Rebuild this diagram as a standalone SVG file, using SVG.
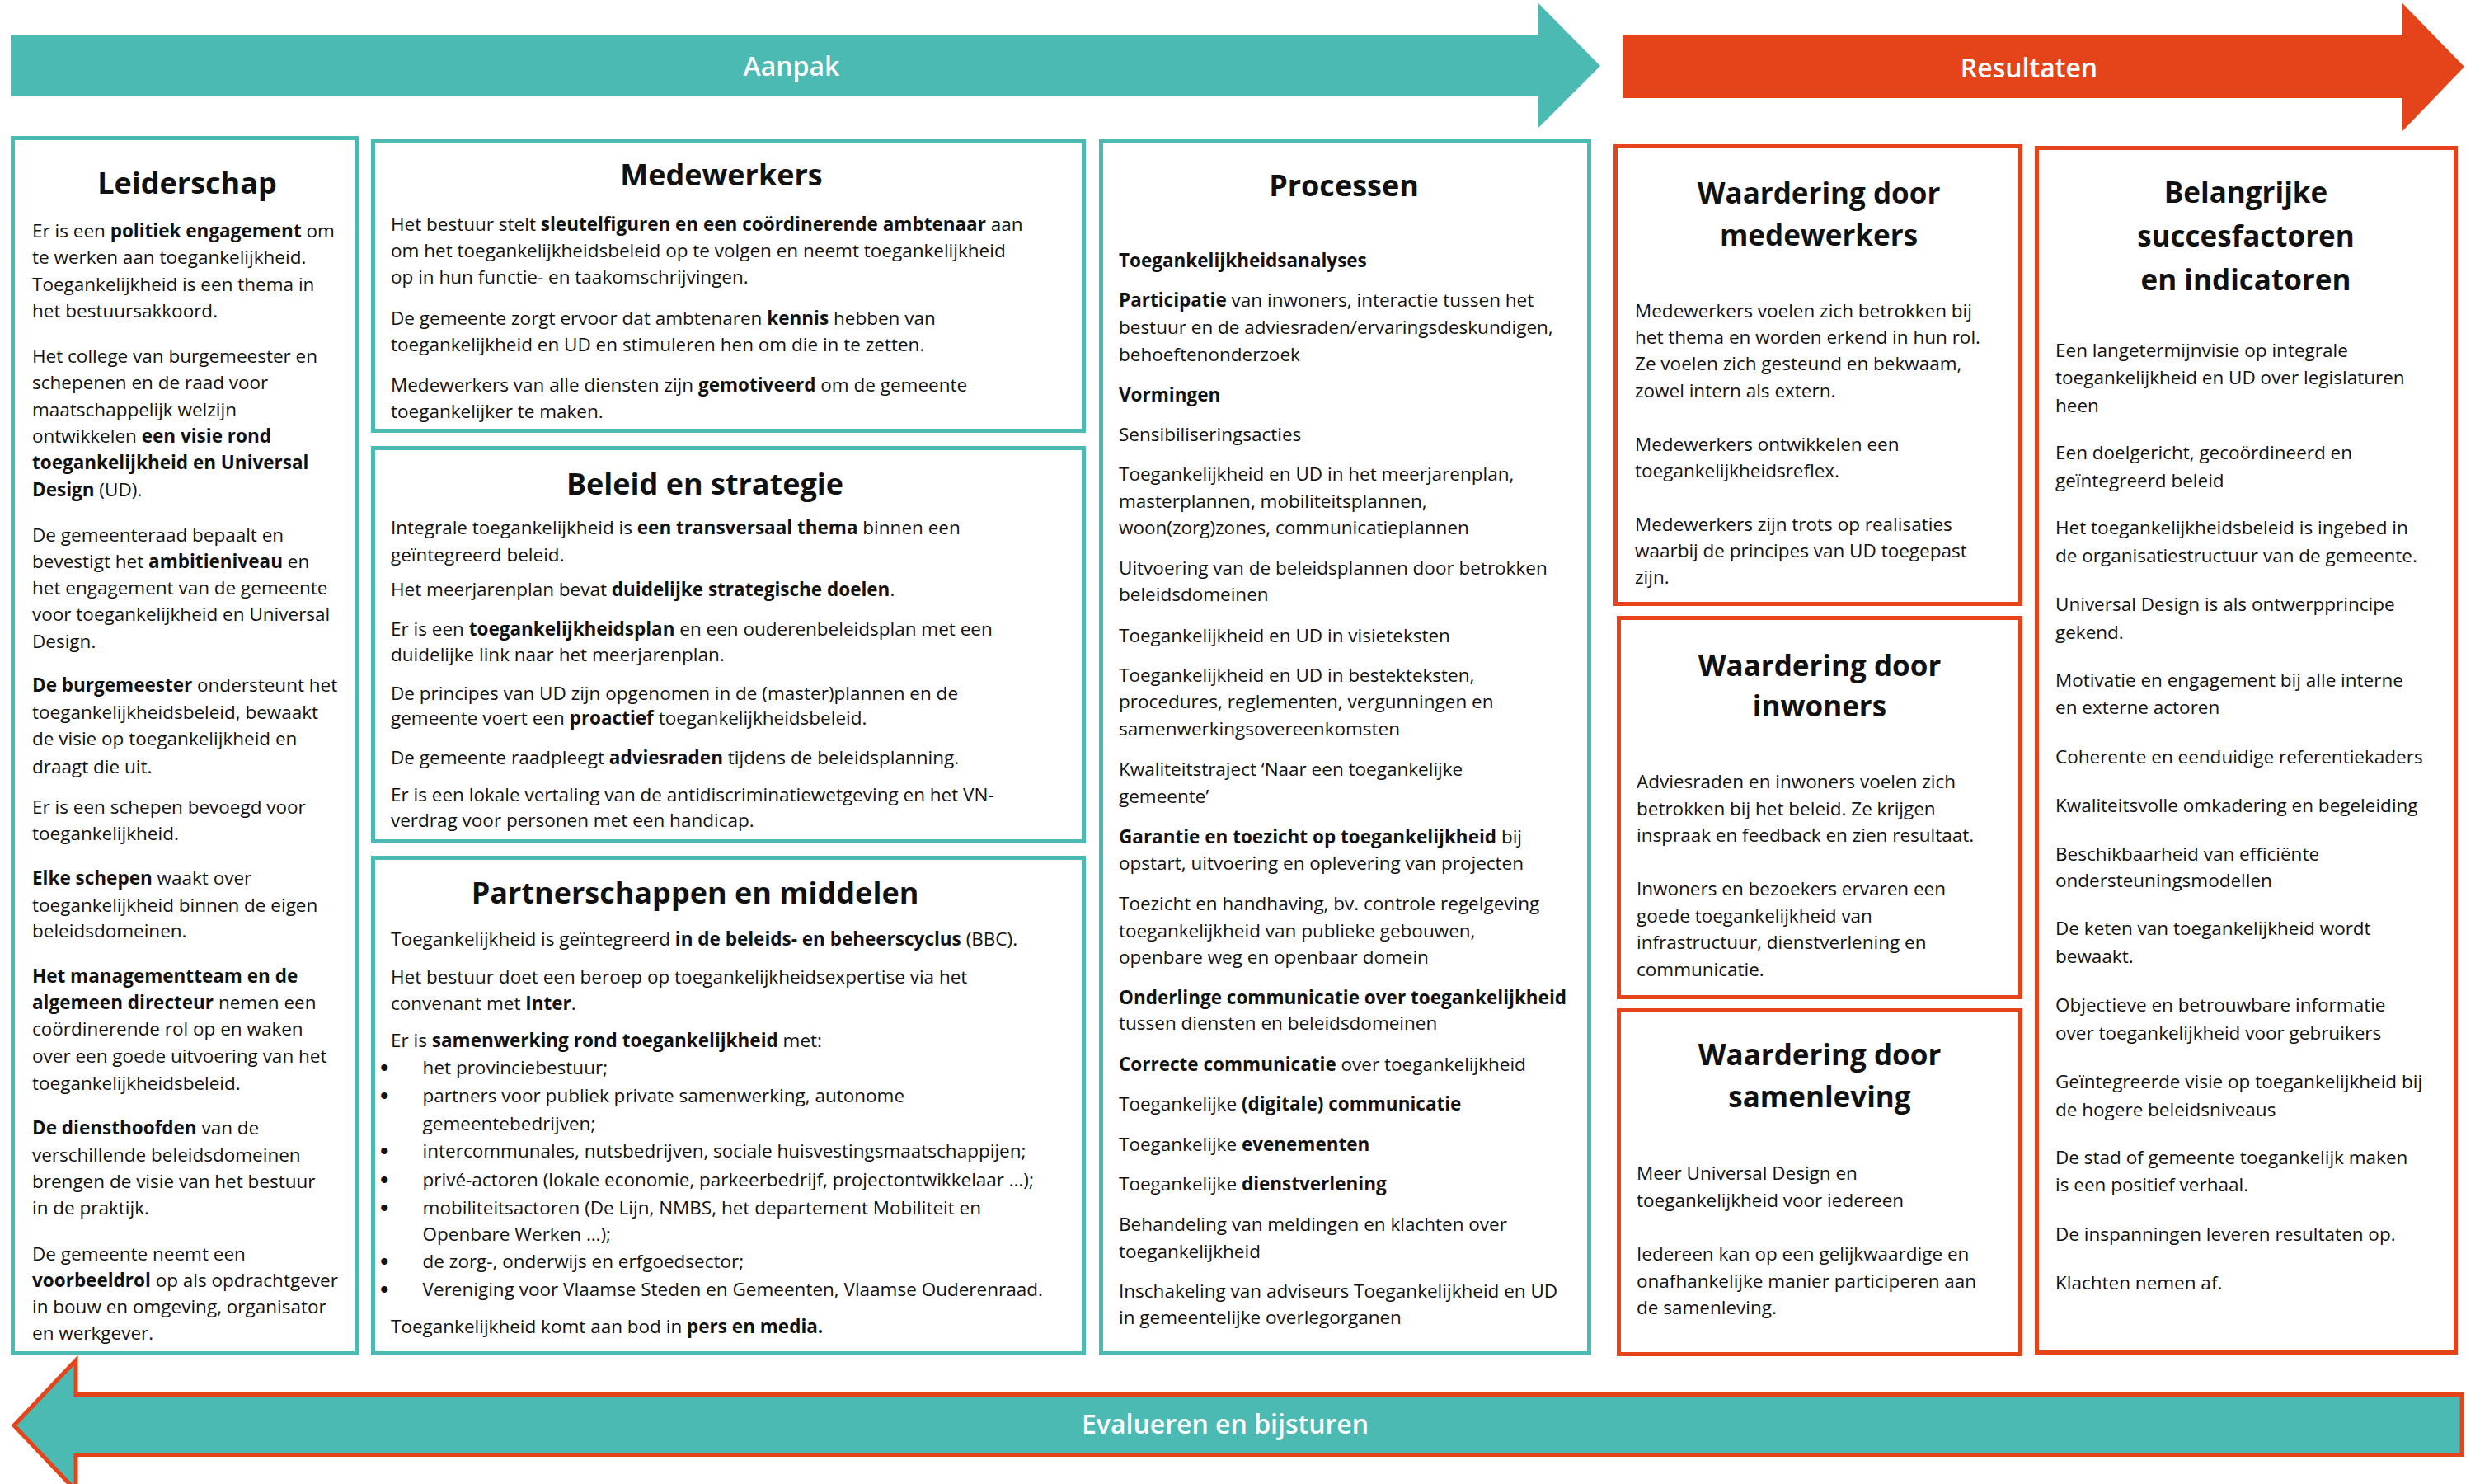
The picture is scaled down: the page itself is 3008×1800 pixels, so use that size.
<svg xmlns="http://www.w3.org/2000/svg" width="3008" height="1800" viewBox="0 0 3008 1800">
<style>
text{font-family:"Open Sans","Liberation Sans",sans-serif;fill:#111}
.t{font-size:22.5px}
.h{font-size:36px;font-weight:700;text-anchor:middle}
.hw{font-size:35px;font-weight:700;text-anchor:middle}
.b{font-weight:700}
.bu{font-size:30px;font-family:"Liberation Sans",sans-serif}
.bt{font-size:32px;font-weight:600;fill:#fff;text-anchor:middle}
.teal{fill:#fff;stroke:#4BBAB2;stroke-width:5}
.orng{fill:#fff;stroke:#E5441A;stroke-width:5}
</style>
<rect width="3008" height="1800" fill="#fff"/>
<g id="banners">
<polygon points="13,42 1866,42 1866,4 1941,80 1866,155 1866,117 13,117" fill="#4BBAB2"/>
<text class="bt" x="960" y="92">Aanpak</text>
<polygon points="1968,43 2914,43 2914,4 2989,81 2914,159 2914,119 1968,119" fill="#E5441A"/>
<text class="bt" x="2461" y="94">Resultaten</text>
<polygon points="17,1729 92,1650 92,1691.5 2986,1691.5 2986,1764.5 92,1764.5 92,1808" fill="#4BBAB2" stroke="#E5441A" stroke-width="5" stroke-linejoin="miter"/>
<text class="bt" x="1486" y="1739">Evalueren en bijsturen</text>
</g>
<g id="leiderschap">
<rect class="teal" x="15.5" y="167.5" width="417" height="1474"/>
<text class="h" x="227" y="235">Leiderschap</text>
<g class="t">
<text x="39" y="288">Er is een <tspan class="b">politiek engagement</tspan> om</text>
<text x="39" y="320">te werken aan toegankelijkheid.</text>
<text x="39" y="353">Toegankelijkheid is een thema in</text>
<text x="39" y="385">het bestuursakkoord.</text>
<text x="39" y="440">Het college van burgemeester en</text>
<text x="39" y="472">schepenen en de raad voor</text>
<text x="39" y="504.5">maatschappelijk welzijn</text>
<text x="39" y="537">ontwikkelen <tspan class="b">een visie rond</tspan></text>
<text x="39" y="569" class="b">toegankelijkheid en Universal</text>
<text x="39" y="602"><tspan class="b">Design</tspan> (UD).</text>
<text x="39" y="657">De gemeenteraad bepaalt en</text>
<text x="39" y="689">bevestigt het <tspan class="b">ambitieniveau</tspan> en</text>
<text x="39" y="721">het engagement van de gemeente</text>
<text x="39" y="753">voor toegankelijkheid en Universal</text>
<text x="39" y="786">Design.</text>
<text x="39" y="839"><tspan class="b">De burgemeester</tspan> ondersteunt het</text>
<text x="39" y="872">toegankelijkheidsbeleid, bewaakt</text>
<text x="39" y="904">de visie op toegankelijkheid en</text>
<text x="39" y="938">draagt die uit.</text>
<text x="39" y="987">Er is een schepen bevoegd voor</text>
<text x="39" y="1019">toegankelijkheid.</text>
<text x="39" y="1073"><tspan class="b">Elke schepen</tspan> waakt over</text>
<text x="39" y="1106">toegankelijkheid binnen de eigen</text>
<text x="39" y="1137">beleidsdomeinen.</text>
<text x="39" y="1192" class="b">Het managementteam en de</text>
<text x="39" y="1224"><tspan class="b">algemeen directeur</tspan> nemen een</text>
<text x="39" y="1256">coördinerende rol op en waken</text>
<text x="39" y="1289">over een goede uitvoering van het</text>
<text x="39" y="1322">toegankelijkheidsbeleid.</text>
<text x="39" y="1376"><tspan class="b">De diensthoofden</tspan> van de</text>
<text x="39" y="1409">verschillende beleidsdomeinen</text>
<text x="39" y="1441">brengen de visie van het bestuur</text>
<text x="39" y="1473">in de praktijk.</text>
<text x="39" y="1529">De gemeente neemt een</text>
<text x="39" y="1561"><tspan class="b">voorbeeldrol</tspan> op als opdrachtgever</text>
<text x="39" y="1593">in bouw en omgeving, organisator</text>
<text x="39" y="1625">en werkgever.</text>
</g>
</g>
<g id="medewerkers">
<rect class="teal" x="452.5" y="170.5" width="862" height="352"/>
<text class="h" x="875" y="225">Medewerkers</text>
<g class="t">
<text x="474" y="280">Het bestuur stelt <tspan class="b">sleutelfiguren en een coördinerende ambtenaar</tspan> aan</text>
<text x="474" y="311.5">om het toegankelijkheidsbeleid op te volgen en neemt toegankelijkheid</text>
<text x="474" y="344">op in hun functie- en taakomschrijvingen.</text>
<text x="474" y="394">De gemeente zorgt ervoor dat ambtenaren <tspan class="b">kennis</tspan> hebben van</text>
<text x="474" y="426">toegankelijkheid en UD en stimuleren hen om die in te zetten.</text>
<text x="474" y="475">Medewerkers van alle diensten zijn <tspan class="b">gemotiveerd</tspan> om de gemeente</text>
<text x="474" y="507">toegankelijker te maken.</text>
</g>
</g>
<g id="beleid">
<rect class="teal" x="452.5" y="543.5" width="862" height="477"/>
<text class="h" x="855" y="600">Beleid en strategie</text>
<g class="t">
<text x="474" y="648">Integrale toegankelijkheid is <tspan class="b">een transversaal thema</tspan> binnen een</text>
<text x="474" y="680.5">geïntegreerd beleid.</text>
<text x="474" y="723">Het meerjarenplan bevat <tspan class="b">duidelijke strategische doelen</tspan>.</text>
<text x="474" y="771">Er is een <tspan class="b">toegankelijkheidsplan</tspan> en een ouderenbeleidsplan met een</text>
<text x="474" y="802">duidelijke link naar het meerjarenplan.</text>
<text x="474" y="849">De principes van UD zijn opgenomen in de (master)plannen en de</text>
<text x="474" y="879">gemeente voert een <tspan class="b">proactief</tspan> toegankelijkheidsbeleid.</text>
<text x="474" y="927">De gemeente raadpleegt <tspan class="b">adviesraden</tspan> tijdens de beleidsplanning.</text>
<text x="474" y="972">Er is een lokale vertaling van de antidiscriminatiewetgeving en het VN-</text>
<text x="474" y="1003">verdrag voor personen met een handicap.</text>
</g>
</g>
<g id="partnerschappen">
<rect class="teal" x="452.5" y="1040.5" width="862" height="601"/>
<text class="h" x="843" y="1096">Partnerschappen en middelen</text>
<g class="t">
<text x="474" y="1146.5">Toegankelijkheid is geïntegreerd <tspan class="b">in de beleids- en beheerscyclus</tspan> (BBC).</text>
<text x="474" y="1193">Het bestuur doet een beroep op toegankelijkheidsexpertise via het</text>
<text x="474" y="1225">convenant met <tspan class="b">Inter</tspan>.</text>
<text x="474" y="1270">Er is <tspan class="b">samenwerking rond toegankelijkheid</tspan> met:</text>
<text class="bu" x="461" y="1305">•</text><text x="512.6" y="1303">het provinciebestuur;</text>
<text class="bu" x="461" y="1339">•</text><text x="512.6" y="1337">partners voor publiek private samenwerking, autonome</text>
<text x="512.6" y="1371">gemeentebedrijven;</text>
<text class="bu" x="461" y="1406">•</text><text x="512.6" y="1404">intercommunales, nutsbedrijven, sociale huisvestingsmaatschappijen;</text>
<text class="bu" x="461" y="1440.5">•</text><text x="512.6" y="1438.5">privé-actoren (lokale economie, parkeerbedrijf, projectontwikkelaar …);</text>
<text class="bu" x="461" y="1474.5">•</text><text x="512.6" y="1472.5">mobiliteitsactoren (De Lijn, NMBS, het departement Mobiliteit en</text>
<text x="512.6" y="1505">Openbare Werken …);</text>
<text class="bu" x="461" y="1540">•</text><text x="512.6" y="1538">de zorg-, onderwijs en erfgoedsector;</text>
<text class="bu" x="461" y="1574">•</text><text x="512.6" y="1572">Vereniging voor Vlaamse Steden en Gemeenten, Vlaamse Ouderenraad.</text>
<text x="474" y="1617">Toegankelijkheid komt aan bod in <tspan class="b">pers en media.</tspan></text>
</g>
</g>
<g id="processen">
<rect class="teal" x="1335.5" y="171.5" width="592" height="1470"/>
<text class="h" x="1630" y="237.5">Processen</text>
<g class="t">
<text x="1357" y="324" class="b">Toegankelijkheidsanalyses</text>
<text x="1357" y="372"><tspan class="b">Participatie</tspan> van inwoners, interactie tussen het</text>
<text x="1357" y="405">bestuur en de adviesraden/ervaringsdeskundigen,</text>
<text x="1357" y="437.5">behoeftenonderzoek</text>
<text x="1357" y="486.5" class="b">Vormingen</text>
<text x="1357" y="534.5">Sensibiliseringsacties</text>
<text x="1357" y="583">Toegankelijkheid en UD in het meerjarenplan,</text>
<text x="1357" y="616">masterplannen, mobiliteitsplannen,</text>
<text x="1357" y="648">woon(zorg)zones, communicatieplannen</text>
<text x="1357" y="696.5">Uitvoering van de beleidsplannen door betrokken</text>
<text x="1357" y="729">beleidsdomeinen</text>
<text x="1357" y="778.5">Toegankelijkheid en UD in visieteksten</text>
<text x="1357" y="827">Toegankelijkheid en UD in bestekteksten,</text>
<text x="1357" y="859">procedures, reglementen, vergunningen en</text>
<text x="1357" y="891.5">samenwerkingsovereenkomsten</text>
<text x="1357" y="941">Kwaliteitstraject ‘Naar een toegankelijke</text>
<text x="1357" y="973.5">gemeente’</text>
<text x="1357" y="1022.5"><tspan class="b">Garantie en toezicht op toegankelijkheid</tspan> bij</text>
<text x="1357" y="1055">opstart, uitvoering en oplevering van projecten</text>
<text x="1357" y="1103.5">Toezicht en handhaving, bv. controle regelgeving</text>
<text x="1357" y="1136.5">toegankelijkheid van publieke gebouwen,</text>
<text x="1357" y="1169">openbare weg en openbaar domein</text>
<text x="1357" y="1217.5" class="b">Onderlinge communicatie over toegankelijkheid</text>
<text x="1357" y="1249">tussen diensten en beleidsdomeinen</text>
<text x="1357" y="1298.5"><tspan class="b">Correcte communicatie</tspan> over toegankelijkheid</text>
<text x="1357" y="1347">Toegankelijke <tspan class="b">(digitale) communicatie</tspan></text>
<text x="1357" y="1395.5">Toegankelijke <tspan class="b">evenementen</tspan></text>
<text x="1357" y="1444">Toegankelijke <tspan class="b">dienstverlening</tspan></text>
<text x="1357" y="1492.5">Behandeling van meldingen en klachten over</text>
<text x="1357" y="1525.5">toegankelijkheid</text>
<text x="1357" y="1574">Inschakeling van adviseurs Toegankelijkheid en UD</text>
<text x="1357" y="1605.5">in gemeentelijke overlegorganen</text>
</g>
</g>
<g id="waardering-medewerkers">
<rect class="orng" x="1959.5" y="177.5" width="491" height="555"/>
<text class="hw" x="2206" y="247">Waardering door</text>
<text class="hw" x="2206" y="297.5">medewerkers</text>
<g class="t">
<text x="1983" y="384.5">Medewerkers voelen zich betrokken bij</text>
<text x="1983" y="416.5">het thema en worden erkend in hun rol.</text>
<text x="1983" y="449">Ze voelen zich gesteund en bekwaam,</text>
<text x="1983" y="481.5">zowel intern als extern.</text>
<text x="1983" y="547">Medewerkers ontwikkelen een</text>
<text x="1983" y="578.5">toegankelijkheidsreflex.</text>
<text x="1983" y="643.5">Medewerkers zijn trots op realisaties</text>
<text x="1983" y="675.5">waarbij de principes van UD toegepast</text>
<text x="1983" y="708">zijn.</text>
</g>
</g>
<g id="waardering-inwoners">
<rect class="orng" x="1963.5" y="749.5" width="487" height="460"/>
<text class="hw" x="2207" y="820">Waardering door</text>
<text class="hw" x="2207" y="869">inwoners</text>
<g class="t">
<text x="1985" y="955.5">Adviesraden en inwoners voelen zich</text>
<text x="1985" y="988.5">betrokken bij het beleid. Ze krijgen</text>
<text x="1985" y="1020.5">inspraak en feedback en zien resultaat.</text>
<text x="1985" y="1086">Inwoners en bezoekers ervaren een</text>
<text x="1985" y="1119">goede toegankelijkheid van</text>
<text x="1985" y="1151">infrastructuur, dienstverlening en</text>
<text x="1985" y="1183.5">communicatie.</text>
</g>
</g>
<g id="waardering-samenleving">
<rect class="orng" x="1963.5" y="1225.5" width="487" height="417"/>
<text class="hw" x="2207" y="1292">Waardering door</text>
<text class="hw" x="2207" y="1343">samenleving</text>
<g class="t">
<text x="1985" y="1430.5">Meer Universal Design en</text>
<text x="1985" y="1464">toegankelijkheid voor iedereen</text>
<text x="1985" y="1528.5">Iedereen kan op een gelijkwaardige en</text>
<text x="1985" y="1561.5">onafhankelijke manier participeren aan</text>
<text x="1985" y="1593.5">de samenleving.</text>
</g>
</g>
<g id="succesfactoren">
<rect class="orng" x="2470.5" y="179.5" width="508" height="1461"/>
<text class="hw" x="2724" y="246">Belangrijke</text>
<text class="hw" x="2724" y="299">succesfactoren</text>
<text class="hw" x="2724" y="351.5">en indicatoren</text>
<g class="t">
<text x="2493" y="432.5">Een langetermijnvisie op integrale</text>
<text x="2493" y="466">toegankelijkheid en UD over legislaturen</text>
<text x="2493" y="499.5">heen</text>
<text x="2493" y="557">Een doelgericht, gecoördineerd en</text>
<text x="2493" y="590.5">geïntegreerd beleid</text>
<text x="2493" y="648">Het toegankelijkheidsbeleid is ingebed in</text>
<text x="2493" y="681.5">de organisatiestructuur van de gemeente.</text>
<text x="2493" y="741">Universal Design is als ontwerpprincipe</text>
<text x="2493" y="774.5">gekend.</text>
<text x="2493" y="832.5">Motivatie en engagement bij alle interne</text>
<text x="2493" y="866">en externe actoren</text>
<text x="2493" y="925.5">Coherente en eenduidige referentiekaders</text>
<text x="2493" y="985">Kwaliteitsvolle omkadering en begeleiding</text>
<text x="2493" y="1043.5">Beschikbaarheid van efficiënte</text>
<text x="2493" y="1076">ondersteuningsmodellen</text>
<text x="2493" y="1134">De keten van toegankelijkheid wordt</text>
<text x="2493" y="1167.5">bewaakt.</text>
<text x="2493" y="1227">Objectieve en betrouwbare informatie</text>
<text x="2493" y="1260.5">over toegankelijkheid voor gebruikers</text>
<text x="2493" y="1320">Geïntegreerde visie op toegankelijkheid bij</text>
<text x="2493" y="1353.5">de hogere beleidsniveaus</text>
<text x="2493" y="1411.5">De stad of gemeente toegankelijk maken</text>
<text x="2493" y="1445">is een positief verhaal.</text>
<text x="2493" y="1504.5">De inspanningen leveren resultaten op.</text>
<text x="2493" y="1564">Klachten nemen af.</text>
</g>
</g>
</svg>
